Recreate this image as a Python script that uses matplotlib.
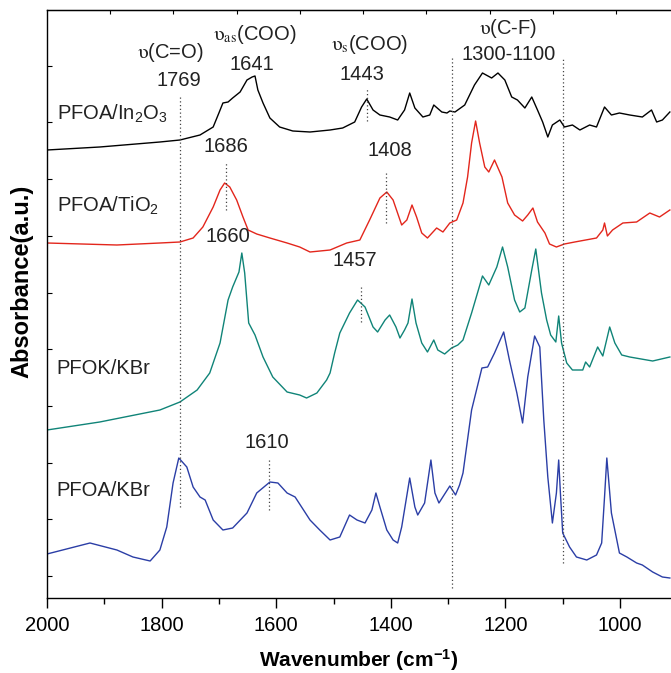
import matplotlib
matplotlib.use("Agg")
import matplotlib.pyplot as plt
import numpy as np

plt.rcParams['font.family'] = ['Liberation Sans', 'DejaVu Sans']
plt.rcParams['mathtext.fontset'] = 'custom'
plt.rcParams['mathtext.rm'] = 'Liberation Sans'
plt.rcParams['mathtext.it'] = 'Liberation Sans:italic'
plt.rcParams['mathtext.bf'] = 'Liberation Sans:bold'

# spectra: wavenumber (cm-1) and offset absorbance (a.u.)
in2o3_x = [2000, 1908, 1803, 1768, 1733, 1710, 1700, 1693, 1684, 1676, 1663, 1651, 1642, 1637,
           1632, 1623, 1611, 1594, 1571, 1541, 1506, 1484, 1463, 1451, 1442, 1431, 1419, 1402,
           1388, 1376, 1367, 1358, 1344, 1332, 1325, 1311, 1302, 1297, 1288, 1271, 1254, 1240,
           1224, 1213, 1201, 1189, 1179, 1166, 1154, 1144, 1135, 1126, 1118, 1105, 1097, 1083,
           1070, 1053, 1041, 1027, 1015, 1001, 983, 961, 945, 936, 926, 913]
in2o3_y = [4.48, 4.51, 4.56, 4.58, 4.63, 4.71, 4.85, 4.95, 4.96, 5.00, 5.06, 5.18, 5.21, 5.22,
           5.08, 4.95, 4.80, 4.71, 4.67, 4.66, 4.68, 4.70, 4.76, 4.91, 4.99, 4.88, 4.83, 4.81,
           4.78, 4.88, 5.05, 4.90, 4.81, 4.83, 4.93, 4.86, 4.85, 4.87, 4.86, 4.93, 5.13, 5.25,
           5.20, 5.25, 5.18, 5.01, 4.98, 4.90, 5.01, 4.88, 4.76, 4.61, 4.73, 4.78, 4.71, 4.73,
           4.68, 4.73, 4.71, 4.91, 4.83, 4.85, 4.83, 4.81, 4.88, 4.76, 4.78, 4.86]

tio2_x = [2000, 1878, 1803, 1768, 1745, 1728, 1710, 1698, 1690, 1681, 1669, 1658, 1649, 1634,
          1611, 1581, 1559, 1541, 1506, 1477, 1454, 1437, 1419, 1407, 1396, 1381, 1372, 1363,
          1355, 1346, 1336, 1320, 1309, 1297, 1285, 1274, 1266, 1259, 1252, 1245, 1236, 1229,
          1219, 1206, 1196, 1184, 1170, 1161, 1152, 1144, 1131, 1123, 1111, 1097, 1079, 1041,
          1030, 1027, 1022, 1013, 995, 971, 948, 931, 913]
tio2_y = [3.55, 3.53, 3.55, 3.56, 3.60, 3.71, 3.91, 4.08, 4.15, 4.11, 3.98, 3.81, 3.68, 3.64,
          3.60, 3.55, 3.51, 3.46, 3.48, 3.55, 3.58, 3.78, 4.00, 4.06, 3.98, 3.73, 3.78, 3.93,
          3.81, 3.65, 3.60, 3.70, 3.66, 3.75, 3.78, 3.95, 4.21, 4.55, 4.77, 4.55, 4.31, 4.26,
          4.38, 4.21, 3.95, 3.83, 3.77, 3.83, 3.90, 3.76, 3.65, 3.54, 3.51, 3.54, 3.56, 3.60,
          3.68, 3.75, 3.62, 3.68, 3.75, 3.76, 3.85, 3.81, 3.88]

pfok_x = [2000, 1908, 1803, 1768, 1738, 1716, 1698, 1684, 1676, 1665, 1660, 1655, 1648, 1637,
          1623, 1606, 1581, 1559, 1547, 1529, 1512, 1506, 1498, 1489, 1472, 1458, 1445, 1431,
          1423, 1410, 1402, 1391, 1384, 1376, 1370, 1363, 1356, 1346, 1336, 1325, 1318, 1306,
          1294, 1283, 1274, 1259, 1240, 1229, 1215, 1205, 1196, 1184, 1175, 1166, 1154, 1147,
          1137, 1128, 1121, 1112, 1107, 1102, 1093, 1083, 1065, 1060, 1053, 1039, 1030, 1018,
          1009, 997, 983, 943, 913]
pfok_y = [1.68, 1.76, 1.88, 1.96, 2.08, 2.25, 2.55, 2.98, 3.11, 3.26, 3.45, 3.25, 2.75, 2.63,
          2.41, 2.21, 2.06, 2.03, 2.00, 2.05, 2.18, 2.25, 2.45, 2.65, 2.85, 2.98, 2.91, 2.71,
          2.66, 2.78, 2.83, 2.71, 2.60, 2.68, 2.75, 2.99, 2.75, 2.55, 2.46, 2.58, 2.48, 2.44,
          2.50, 2.53, 2.58, 2.85, 3.22, 3.13, 3.31, 3.51, 3.31, 2.98, 2.86, 2.90, 3.28, 3.49,
          3.05, 2.78, 2.63, 2.56, 2.82, 2.55, 2.35, 2.28, 2.28, 2.36, 2.31, 2.51, 2.42, 2.71,
          2.55, 2.43, 2.41, 2.37, 2.41]

kbr_x = [2000, 1925, 1878, 1850, 1820, 1803, 1791, 1780, 1770, 1756, 1745, 1733, 1724, 1710,
         1693, 1676, 1651, 1634, 1611, 1597, 1581, 1567, 1541, 1524, 1506, 1489, 1472, 1459,
         1445, 1433, 1426, 1419, 1407, 1396, 1388, 1381, 1367, 1358, 1353, 1341, 1330, 1323,
         1316, 1297, 1287, 1280, 1274, 1259, 1241, 1231, 1219, 1203, 1193, 1180, 1170, 1161,
         1149, 1140, 1133, 1126, 1118, 1111, 1107, 1104, 1100, 1088, 1076, 1058, 1041, 1032,
         1027, 1023, 1015, 1001, 988, 971, 961, 943, 926, 913]
kbr_y = [0.44, 0.55, 0.48, 0.41, 0.37, 0.48, 0.71, 1.15, 1.40, 1.31, 1.11, 1.01, 0.98, 0.78,
         0.68, 0.70, 0.85, 1.05, 1.16, 1.15, 1.05, 1.01, 0.78, 0.68, 0.58, 0.61, 0.83, 0.78,
         0.75, 0.88, 1.05, 0.91, 0.68, 0.58, 0.55, 0.71, 1.20, 0.91, 0.83, 0.95, 1.38, 1.05,
         0.95, 1.12, 1.03, 1.13, 1.25, 1.88, 2.30, 2.31, 2.45, 2.66, 2.38, 2.05, 1.75, 2.21,
         2.62, 2.51, 1.78, 1.21, 0.75, 1.05, 1.38, 1.05, 0.65, 0.51, 0.41, 0.38, 0.43, 0.55,
         1.01, 1.40, 0.85, 0.45, 0.41, 0.35, 0.33, 0.26, 0.21, 0.20]

sample_names = ['PFOA/In$_2$O$_3$', 'PFOA/TiO$_2$', 'PFOK/KBr', 'PFOA/KBr']
name_y = [4.78, 3.86, 2.24, 1.02]
colors = ['black', '#e3261c', '#108478', '#2b3ea6']

# dotted guide lines: position, bottom, top
guide_x = [1768, 1688, 1441, 1408, 1452, 1613, 1294, 1100]
guide_lo = [0.91, 3.88, 4.77, 3.75, 2.76, 0.88, 0.10, 0.35]
guide_hi = [5.01, 4.35, 5.10, 4.25, 3.13, 1.40, 5.40, 5.40]

# band assignments (Times-like upsilon) and peak positions
band_text = [r'$\mathrm{\upsilon}$(C=O)', r'$\mathrm{\upsilon_{as}}$(COO)',
             r'$\mathrm{\upsilon_{s}}$(COO)', r'$\mathrm{\upsilon}$(C-F)']
band_x = [1785, 1637, 1437, 1196]
band_y = [5.46, 5.63, 5.53, 5.70]
peak_text = ['1769', '1641', '1443', '1300-1100', '1686', '1408', '1660', '1457', '1610']
peak_x = [1770, 1642, 1450, 1194, 1688, 1402, 1685, 1462, 1616]
peak_y = [5.18, 5.34, 5.23, 5.44, 4.51, 4.48, 3.62, 3.38, 1.56]

fig = plt.figure(figsize=(6.71, 6.73), dpi=100)
ax = fig.add_axes([47 / 671, 75 / 673, 1 - 47 / 671, 588 / 673])

for xs, ys, c in zip([in2o3_x, tio2_x, pfok_x, kbr_x], [in2o3_y, tio2_y, pfok_y, kbr_y], colors):
    ax.plot(xs, ys, color=c, lw=1.0)

for gx, lo, hi in zip(guide_x, guide_lo, guide_hi):
    ax.plot([gx, gx], [lo, hi], color='#444444', lw=0.9, ls=(0, (1, 2)))

for t, x, y in zip(band_text, band_x, band_y):
    ax.text(x, y, t, ha='center', va='center', fontsize=14.5, color='#222222',
            math_fontfamily='stix')
for t, x, y in zip(peak_text, peak_x, peak_y):
    ax.text(x, y, t, ha='center', va='center', fontsize=14.5, color='#222222')

for t, y in zip(sample_names, name_y):
    ax.text(1983, y, t, ha='left', va='baseline', fontsize=14.5, color='#222222')

ax.set_xlim(2000, 911)
ax.set_ylim(0, 5.88)
ax.set_xticks([2000, 1800, 1600, 1400, 1200, 1000])
ax.set_xticks(np.arange(1900, 911, -200), minor=True)
ax.set_yticks(np.arange(0.22, 5.88, 0.567))
ax.set_yticklabels([])
ax.tick_params(axis='x', which='major', direction='out', length=7, width=1, labelsize=14.5, pad=6)
ax.tick_params(axis='x', which='minor', direction='out', length=4, width=1)
ax.tick_params(axis='y', which='major', direction='in', length=3.5, width=0.8)
ax.spines['right'].set_visible(False)
for s in ['left', 'bottom', 'top']:
    ax.spines[s].set_linewidth(1.0)

# top frame ticks (spaced independently of the data axis)
top = ax.twiny()
top.set_xlim(0, 9.87)
top.set_xticks(np.arange(1, 10))
top.set_xticklabels([])
top.tick_params(axis='x', direction='in', length=3, width=0.8)
for s in top.spines.values():
    s.set_visible(False)
top.spines['top'].set_visible(True)

ax.set_xlabel('Wavenumber (cm$^{\\mathbf{-1}}$)', fontsize=15, fontweight='bold', labelpad=9)
ax.set_ylabel('Absorbance(a.u.)', fontsize=17, fontweight='bold')
ax.yaxis.set_label_coords(-0.022, 0.539)

fig.savefig('out.png', dpi=100)
